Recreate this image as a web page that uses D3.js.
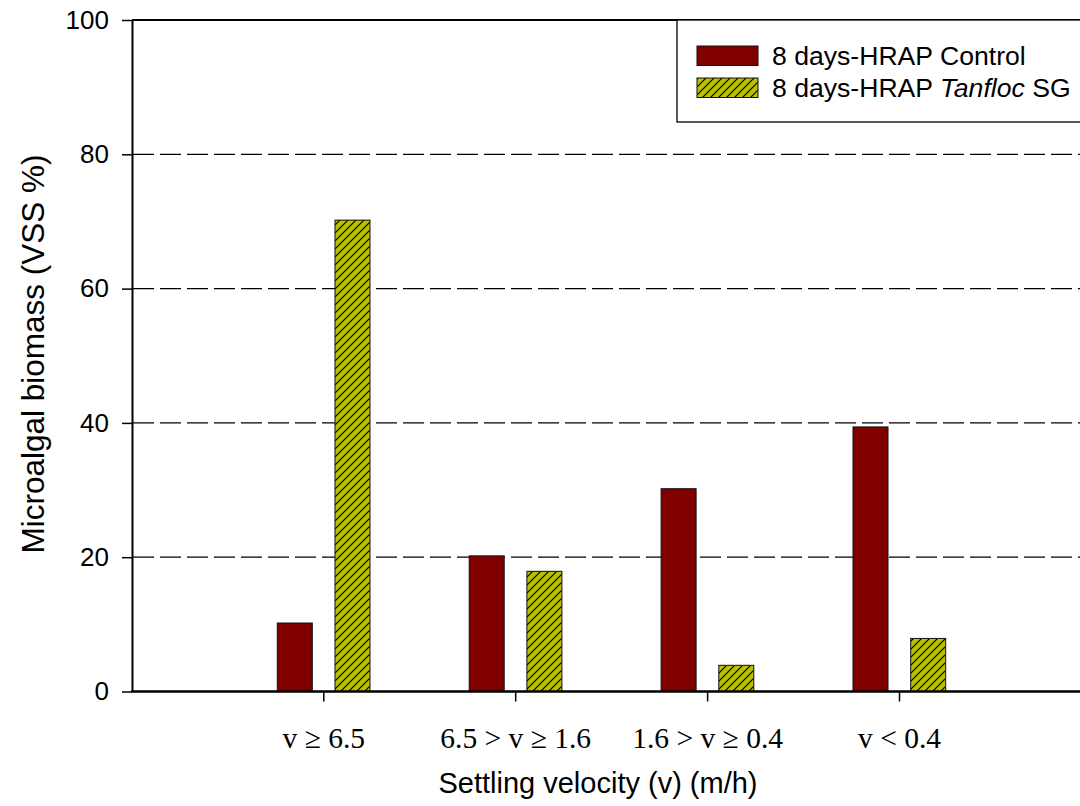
<!DOCTYPE html>
<html>
<head>
<meta charset="utf-8">
<script src="https://cdn.jsdelivr.net/npm/d3@7"></script>
<style>
  html, body { margin: 0; padding: 0; background: #fff; }
  svg { display: block; }
</style>
</head>
<body>
<svg id="chart" width="1080" height="806"></svg>
<script>
// Settling velocity classes and microalgal biomass fractions (VSS %)
const categories = ["v \u2265 6.5", "6.5 > v \u2265 1.6", "1.6 > v \u2265 0.4", "v < 0.4"];
const controlValues = [10.2, 20.2, 30.2, 39.4];
const tanflocValues = [70.2, 17.9, 3.9, 7.9];
const yTicks = [0, 20, 40, 60, 80, 100];
const gridValues = [20, 40, 60, 80];

const sans = "'Liberation Sans', Arial, sans-serif";
const serif = "'Liberation Serif', 'Times New Roman', serif";
const controlColor = "#800000";
const tanflocColor = "#b8c000";

const svg = d3.select("#chart");

const plotLeft = 132, plotRight = 1095, plotTop = 20, plotBottom = 691.5;

const y = d3.scaleLinear().domain([0, 100]).range([plotBottom, plotTop]);
const x = d3.scalePoint().domain(categories).range([323.3, 899]);

const barW = 35;
const off = 11; // half-gap between paired bars

// Diagonal hatch used by the Tanfloc series
const defs = svg.append("defs");
const pat = defs.append("pattern")
  .attr("id", "hatch")
  .attr("patternUnits", "userSpaceOnUse")
  .attr("width", 8).attr("height", 8);
pat.append("rect").attr("width", 8).attr("height", 8).attr("fill", tanflocColor);
pat.append("path")
  .attr("d", "M-2,2 L2,-2 M0,8 L8,0 M6,10 L10,6")
  .attr("stroke", "#000").attr("stroke-width", 1.2);

// Dashed reference lines
svg.append("g").selectAll("line").data(gridValues).join("line")
  .attr("x1", plotLeft + 1).attr("x2", plotRight)
  .attr("y1", d => y(d)).attr("y2", d => y(d))
  .attr("stroke", "#000").attr("stroke-width", 1.2)
  .attr("stroke-dasharray", "21,6");

// Top frame line
svg.append("line")
  .attr("x1", plotLeft).attr("x2", plotRight)
  .attr("y1", y(100)).attr("y2", y(100))
  .attr("stroke", "#000").attr("stroke-width", 2);

// Bars
const bars = svg.append("g");
bars.selectAll("rect.ctrl").data(categories).join("rect")
  .attr("class", "ctrl")
  .attr("x", d => x(d) - off - barW)
  .attr("width", barW)
  .attr("y", (d, i) => y(controlValues[i]))
  .attr("height", (d, i) => y(0) - y(controlValues[i]))
  .attr("fill", controlColor)
  .attr("stroke", "#111").attr("stroke-width", 1);

bars.selectAll("rect.tan").data(categories).join("rect")
  .attr("class", "tan")
  .attr("x", d => x(d) + off + 0.7)
  .attr("width", barW)
  .attr("y", (d, i) => y(tanflocValues[i]))
  .attr("height", (d, i) => y(0) - y(tanflocValues[i]))
  .attr("fill", "url(#hatch)")
  .attr("stroke", "#111").attr("stroke-width", 1);

// Y axis
const yAxis = svg.append("g")
  .attr("transform", `translate(${plotLeft},0)`)
  .call(d3.axisLeft(y).tickValues(yTicks).tickSize(10).tickSizeOuter(0).tickPadding(13));
yAxis.select(".domain").attr("stroke-width", 2);
yAxis.selectAll(".tick line").attr("stroke-width", 1.5);
yAxis.selectAll("text")
  .attr("font-family", sans).attr("font-size", 26).attr("fill", "#000");

// X axis
svg.append("line")
  .attr("x1", plotLeft - 1).attr("x2", plotRight)
  .attr("y1", plotBottom).attr("y2", plotBottom)
  .attr("stroke", "#000").attr("stroke-width", 2.5);
const xAxis = svg.append("g")
  .attr("transform", `translate(0,${plotBottom})`)
  .call(d3.axisBottom(x).tickSize(10).tickSizeOuter(0).tickPadding(26));
xAxis.select(".domain").remove();
xAxis.selectAll(".tick line").attr("stroke-width", 1.5);
xAxis.selectAll("text")
  .attr("font-family", serif).attr("font-size", 29.5).attr("fill", "#000");

// Axis titles
svg.append("text")
  .attr("x", 598).attr("y", 793)
  .attr("text-anchor", "middle")
  .attr("font-family", sans).attr("font-size", 29)
  .text("Settling velocity (v) (m/h)");

svg.append("text")
  .attr("transform", "translate(44,354) rotate(-90)")
  .attr("text-anchor", "middle")
  .attr("font-family", sans).attr("font-size", 31.5)
  .text("Microalgal biomass (VSS %)");

// Legend
const lg = svg.append("g");
lg.append("rect")
  .attr("x", 677).attr("y", 20).attr("width", 430).attr("height", 102)
  .attr("fill", "#fff").attr("stroke", "#000").attr("stroke-width", 1.3);
const legendItems = [
  { fill: controlColor, y: 46, parts: [["8 days-HRAP Control", "normal"]] },
  { fill: "url(#hatch)", y: 78, parts: [["8 days-HRAP ", "normal"], ["Tanfloc", "italic"], [" SG", "normal"]] }
];
legendItems.forEach(item => {
  lg.append("rect")
    .attr("x", 697).attr("y", item.y).attr("width", 61).attr("height", 19.5)
    .attr("fill", item.fill).attr("stroke", "#111").attr("stroke-width", 1);
  const t = lg.append("text")
    .attr("x", 772).attr("y", item.y + 19)
    .attr("font-family", sans).attr("font-size", 26.6).attr("fill", "#000");
  item.parts.forEach(([s, st]) => t.append("tspan").attr("font-style", st).text(s));
});
</script>
</body>
</html>
